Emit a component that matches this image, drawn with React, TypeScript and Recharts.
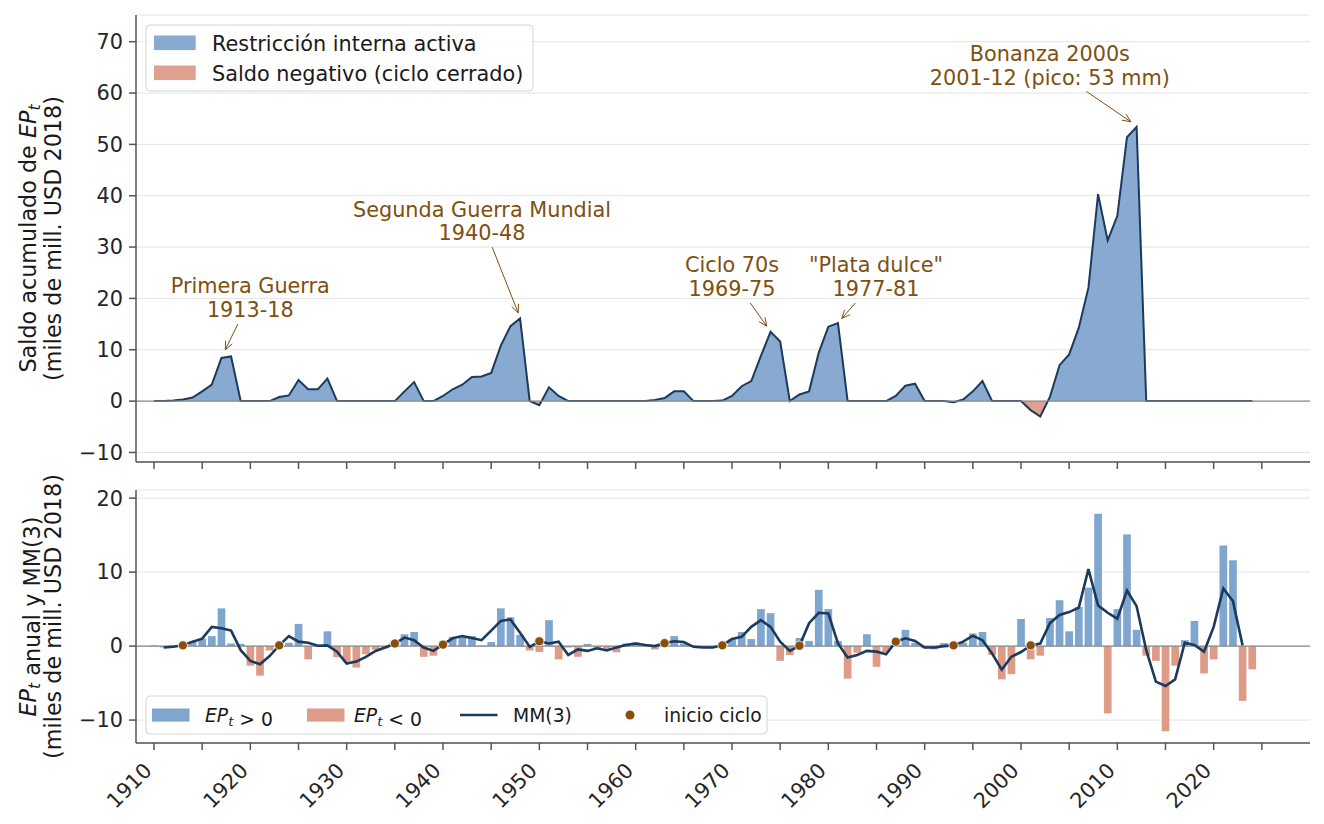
import React from "react";
import {
  ComposedChart,
  Area,
  Bar,
  Cell,
  Line,
  XAxis,
  YAxis,
  CartesianGrid,
  ReferenceLine,
} from "recharts";

// saldo acumulado de EP_t (miles de mill. USD 2018), 1910-2024
const FIRST_YEAR = 1910;
const saldoAcumulado = [
  0, 0, 0.1, 0.3, 0.7, 1.9, 3.2, 8.4, 8.7, 0,
  0, 0, 0, 0.8, 1.1, 4.1, 2.3, 2.3, 4.4, 0,
  0, 0, 0, 0, 0, 0, 1.9, 3.7, 0, 0,
  1.0, 2.3, 3.2, 4.7, 4.8, 5.5, 10.8, 14.6, 16.1, 0,
  -0.8, 2.7, 1.0, 0, 0, 0, 0, 0, 0, 0,
  0, 0, 0.2, 0.6, 1.9, 1.9, 0, 0, 0, 0.1,
  1.0, 2.9, 3.9, 8.8, 13.5, 11.6, 0, 1.3, 1.9, 9.4,
  14.5, 15.2, 0, 0, 0, 0, 0, 1.0, 3.0, 3.4,
  0, 0, 0, -0.2, 0.3, 1.9, 3.9, 0, 0, 0,
  0, -1.75, -3.0, 0.8, 7.0, 9.1, 14.3, 22.1, 40.3, 31.3,
  36.1, 51.4, 53.4, 0, 0, 0, 0, 0, 0, 0,
  0, 0, 0, 0, 0,
];

// EP_t anual
const epAnual = [
  0.1, -0.2, 0.1, 0.2, 0.6, 1.0, 1.35, 5.1, 0.35, 0.3,
  -2.65, -4.0, -0.6, 0.3, 0.45, 3.0, -1.8, 0.1, 2.0, -1.5,
  -2.1, -2.9, -1.1, -0.5, -0.3, 0.2, 1.6, 1.9, -1.45, -1.3,
  0.3, 1.25, 1.2, 1.35, 0.1, 0.55, 5.1, 3.9, 1.5, -0.6,
  -0.8, 3.5, -1.8, -0.2, -1.45, 0.3, -0.3, -0.4, -0.85, 0.35,
  0.5, 0.05, -0.45, 0.2, 1.35, 0.35, -0.1, -0.1, -0.1, 0.1,
  0.9, 1.9, 0.95, 5.0, 4.45, -2.0, -1.2, 1.1, 0.7, 7.6,
  5.0, 0.7, -4.4, -0.9, 1.6, -2.8, -0.8, 0.2, 2.2, 0.45,
  -0.3, -0.45, 0.4, -0.1, 0.45, 1.7, 1.9, -1.2, -4.5, -3.8,
  3.65, -1.8, -1.3, 3.8, 6.2, 2.0, 5.3, 7.9, 17.9, -9.1,
  5.0, 15.1, 2.2, -1.3, -2.0, -11.5, -2.65, 0.8, 3.4, -3.7,
  -1.8, 13.6, 11.6, -7.4, -3.15,
];

// media movil centrada de 3 anos
const mediaMovil3 = [
  null, -0.2, -0.1, 0.1, 0.6, 1.0, 2.6, 2.4, 2.1, -0.55,
  -2.0, -2.45, -1.35, 0.1, 1.35, 0.6, 0.45, 0.05, 0.1, -0.75,
  -2.35, -2.1, -1.45, -0.65, -0.2, 0.35, 1.15, 0.8, -0.2, -0.65,
  0.2, 1.05, 1.35, 1.1, 0.8, 2.1, 3.4, 3.6, 1.8, -0.1,
  0.65, 0.35, 0.6, -1.2, -0.45, -0.65, -0.3, -0.6, -0.2, 0.15,
  0.35, 0.15, 0, 0.4, 0.65, 0.55, -0.1, -0.2, -0.2, 0.1,
  0.95, 1.25, 2.6, 3.5, 2.6, 0.6, -0.65, 0.05, 3.1, 4.5,
  4.4, 0.35, -1.55, -1.2, -0.65, -0.75, -1.1, 0.6, 1.05, 0.7,
  -0.2, -0.2, 0, 0.1, 0.6, 1.4, 0.8, -1.0, -3.2, -1.45,
  -0.8, 0.1, 0.35, 3.1, 4.2, 4.6, 5.2, 10.4, 5.5, 4.5,
  3.7, 7.5, 5.4, -0.55, -4.8, -5.4, -4.5, 0.45, 0.15, -0.75,
  2.6, 7.8, 6.1, 0.1, null,
];

const iniciosCiclo = [1913, 1923, 1935, 1940, 1950, 1963, 1969, 1977, 1987, 1993, 2001];

const yearTicks = [
  1910, 1915, 1920, 1925, 1930, 1935, 1940, 1945, 1950, 1955, 1960, 1965,
  1970, 1975, 1980, 1985, 1990, 1995, 2000, 2005, 2010, 2015, 2020, 2025,
];
const topTicks = [-10, 0, 10, 20, 30, 40, 50, 60, 70];
const bottomTicks = [-10, 0, 10, 20];

// anotaciones del panel superior (coordenadas en datos: ano, valor)
const annotations = [
  { lines: ["Primera Guerra", "1913-18"], text: [1920.0, 16.4], from: [1918.7, 15.0], to: [1917.4, 10.0] },
  { lines: ["Segunda Guerra Mundial", "1940-48"], text: [1944.05, 31.3], from: [1945.1, 30.0], to: [1947.8, 17.2] },
  { lines: ["Ciclo 70s", "1969-75"], text: [1970.0, 20.5], from: [1971.9, 19.1], to: [1973.6, 14.6] },
  { lines: ['"Plata dulce"', "1977-81"], text: [1984.95, 20.5], from: [1982.8, 19.1], to: [1981.4, 16.1] },
  { lines: ["Bonanza 2000s", "2001-12 (pico: 53 mm)"], text: [2003.0, 61.6], from: [2006.8, 60.3], to: [2011.4, 54.4] },
];

const rows = saldoAcumulado.map((saldo, i) => {
  const year = FIRST_YEAR + i;
  return {
    year,
    saldo,
    ep: epAnual[i],
    mm: mediaMovil3[i],
    inicio: iniciosCiclo.includes(year) ? mediaMovil3[i] : null,
  };
});

const W = 1324;
const FONT = "DejaVu Sans";
const PLOT_LEFT = 136;
const PLOT_RIGHT = 1310;
const X_DOMAIN = [1908.13, 2030];
const TOP_DOMAIN = [-11.86, 75.2];
const TOP_H = 480;
const TOP_PLOT_TOP = 15;
const TOP_PLOT_BOTTOM = 462;
const BOT_OFFSET = 480;
const BOT_H = 344;
const BOT_DOMAIN = [-13.1, 21.1];

const BLUE_FILL = "#88aad0";
const RED_FILL = "#e0a08f";
const BLUE_BAR = "#7fa6cf";
const RED_BAR = "#de9b88";
const NAVY = "#1b3a5c";
const BROWN = "#7d500f";
const DOT = "#8a4d0c";
const SPINE = "#555";
const TICK_TXT = "#262626";
const LABEL_FS = 22.3;
const TICK_FS = 20.8;

const xPx = (year: number) =>
  PLOT_LEFT + ((year - X_DOMAIN[0]) / (X_DOMAIN[1] - X_DOMAIN[0])) * (PLOT_RIGHT - PLOT_LEFT);
const topY = (v: number) =>
  TOP_PLOT_TOP + ((TOP_DOMAIN[1] - v) / (TOP_DOMAIN[1] - TOP_DOMAIN[0])) * (TOP_PLOT_BOTTOM - TOP_PLOT_TOP);

const zeroFrac = (TOP_DOMAIN[1] - 0) / (TOP_DOMAIN[1] - TOP_DOMAIN[0]);

const tickStyle = { fontSize: TICK_FS, fill: TICK_TXT, fontFamily: FONT };
const fmtTick = (v: number) => (v < 0 ? `\u2212${Math.abs(v)}` : `${v}`);

const YearTick = (props: any) => {
  const { x, y, payload } = props;
  if (payload.value % 10 !== 0) return <g />;
  const px = x - 1;
  const py = y + 20;
  return (
    <text
      x={px}
      y={py}
      transform={`rotate(-45 ${px} ${py})`}
      textAnchor="end"
      fontSize={TICK_FS}
      fill={TICK_TXT}
      fontFamily={FONT}
    >
      {payload.value}
    </text>
  );
};

const NoTick = () => <g />;

function Arrow({ x1, y1, x2, y2 }: { x1: number; y1: number; x2: number; y2: number }) {
  const ang = Math.atan2(y2 - y1, x2 - x1);
  const L = 9;
  const a = 0.42;
  const p1 = [x2 - L * Math.cos(ang - a), y2 - L * Math.sin(ang - a)];
  const p2 = [x2 - L * Math.cos(ang + a), y2 - L * Math.sin(ang + a)];
  return (
    <g stroke={BROWN} strokeWidth={1} fill="none">
      <line x1={x1} y1={y1} x2={x2} y2={y2} />
      <polyline points={`${p1[0]},${p1[1]} ${x2},${y2} ${p2[0]},${p2[1]}`} />
    </g>
  );
}

function EPt({ size }: { size: number }) {
  return (
    <>
      <tspan fontStyle="italic">EP</tspan>
      <tspan fontStyle="italic" fontSize={size * 0.7} dy={size * 0.22}>
        t
      </tspan>
      <tspan dy={-size * 0.22}>{""}</tspan>
    </>
  );
}

function Overlay() {
  return (
    <svg
      width={W}
      height={824}
      style={{ position: "absolute", left: 0, top: 0, pointerEvents: "none" }}
      fontFamily={FONT}
    >
      {/* etiquetas del eje y */}
      <g fontSize={LABEL_FS} fill="#1a1a1a" textAnchor="middle">
        <text transform="translate(35.5 238.5) rotate(-90)">
          Saldo acumulado de <EPt size={LABEL_FS} />
        </text>
        <text transform="translate(61 238.5) rotate(-90)">(miles de mill. USD 2018)</text>
        <text transform="translate(35.5 616.5) rotate(-90)">
          <EPt size={LABEL_FS} /> anual y MM(3)
        </text>
        <text transform="translate(61 616.5) rotate(-90)">(miles de mill. USD 2018)</text>
      </g>

      {/* anotaciones */}
      {annotations.map((a) => {
        const tx = xPx(a.text[0]);
        const ty = topY(a.text[1]);
        return (
          <g key={a.lines[0]}>
            <text x={tx} y={ty - 23.5} textAnchor="middle" fontSize={20.8} fill={BROWN}>
              {a.lines[0]}
            </text>
            <text x={tx} y={ty} textAnchor="middle" fontSize={20.8} fill={BROWN}>
              {a.lines[1]}
            </text>
            <Arrow x1={xPx(a.from[0])} y1={topY(a.from[1])} x2={xPx(a.to[0])} y2={topY(a.to[1])} />
          </g>
        );
      })}

      {/* leyenda superior */}
      <rect x={146} y={25} width={387} height={66} rx={4} fill="#fff" fillOpacity={0.8} stroke="#d4d4d4" />
      <rect x={154} y={35.5} width={41.7} height={14.6} fill={BLUE_FILL} />
      <rect x={154} y={65.5} width={41.7} height={14.6} fill={RED_FILL} />
      <text x={212} y={50.5} fontSize={20.8} fill="#1a1a1a">
        Restricción interna activa
      </text>
      <text x={212} y={80.5} fontSize={20.8} fill="#1a1a1a">
        Saldo negativo (ciclo cerrado)
      </text>

      {/* leyenda inferior */}
      <rect x={146} y={696} width={621} height={38} rx={4} fill="#fff" fillOpacity={0.8} stroke="#d4d4d4" />
      <rect x={152} y={708.5} width={37.5} height={13.1} fill={BLUE_BAR} />
      <text x={205} y={721.5} fontSize={18.75} fill="#1a1a1a">
        <EPt size={18.75} /> {">"} 0
      </text>
      <rect x={307} y={708.5} width={37.5} height={13.1} fill={RED_BAR} />
      <text x={354} y={721.5} fontSize={18.75} fill="#1a1a1a">
        <EPt size={18.75} /> {"<"} 0
      </text>
      <line x1={460} y1={715} x2={497.5} y2={715} stroke={NAVY} strokeWidth={2.6} />
      <text x={513} y={721.5} fontSize={18.75} fill="#1a1a1a">
        MM(3)
      </text>
      <circle cx={630} cy={715} r={4.5} fill={DOT} />
      <text x={664} y={721.5} fontSize={18.75} fill="#1a1a1a">
        inicio ciclo
      </text>
    </svg>
  );
}

export default function App() {
  return (
    <div
      style={{
        position: "absolute",
        left: 0,
        top: 0,
        width: W,
        height: 824,
        background: "#fff",
        fontFamily: FONT,
      }}
    >
      <div style={{ position: "absolute", left: 0, top: 0 }}>
        <ComposedChart
          width={W}
          height={TOP_H}
          data={rows}
          margin={{ top: TOP_PLOT_TOP, right: W - PLOT_RIGHT, bottom: 0, left: PLOT_LEFT - 60 }}
        >
          <defs>
            <linearGradient
              id="saldoFill"
              gradientUnits="userSpaceOnUse"
              x1={0}
              y1={TOP_PLOT_TOP}
              x2={0}
              y2={TOP_PLOT_BOTTOM}
            >
              <stop offset={zeroFrac} stopColor={BLUE_FILL} />
              <stop offset={zeroFrac} stopColor={RED_FILL} />
            </linearGradient>
          </defs>
          <CartesianGrid vertical={false} stroke="#e3e3e3" strokeWidth={1} />
          <XAxis
            dataKey="year"
            type="number"
            domain={X_DOMAIN}
            ticks={yearTicks}
            allowDataOverflow
            height={TOP_H - TOP_PLOT_BOTTOM}
            tick={NoTick}
            tickSize={7}
            axisLine={{ stroke: SPINE, strokeWidth: 1.5 }}
            tickLine={{ stroke: SPINE, strokeWidth: 1.5 }}
          />
          <YAxis
            type="number"
            domain={TOP_DOMAIN}
            ticks={topTicks}
            allowDataOverflow
            width={60}
            tick={tickStyle}
            tickFormatter={fmtTick}
            tickSize={7}
            tickMargin={6}
            axisLine={{ stroke: SPINE, strokeWidth: 1.5 }}
            tickLine={{ stroke: SPINE, strokeWidth: 1.5 }}
          />
          <Area
            type="linear"
            dataKey="saldo"
            baseValue={0}
            stroke={NAVY}
            strokeWidth={2}
            fill="url(#saldoFill)"
            fillOpacity={1}
            dot={false}
            activeDot={false}
            isAnimationActive={false}
          />
          <ReferenceLine y={0} stroke="#8a8a8a" strokeWidth={1.2} />
        </ComposedChart>
      </div>

      <div style={{ position: "absolute", left: 0, top: BOT_OFFSET }}>
        <ComposedChart
          width={W}
          height={BOT_H}
          data={rows}
          margin={{ top: 10, right: W - PLOT_RIGHT, bottom: 0, left: PLOT_LEFT - 60 }}
        >
          <CartesianGrid vertical={false} stroke="#e3e3e3" strokeWidth={1} />
          <XAxis
            dataKey="year"
            type="number"
            domain={X_DOMAIN}
            ticks={yearTicks}
            allowDataOverflow
            height={81}
            tick={YearTick}
            tickSize={7}
            axisLine={{ stroke: SPINE, strokeWidth: 1.5 }}
            tickLine={{ stroke: SPINE, strokeWidth: 1.5 }}
          />
          <YAxis
            type="number"
            domain={BOT_DOMAIN}
            ticks={bottomTicks}
            allowDataOverflow
            width={60}
            tick={tickStyle}
            tickFormatter={fmtTick}
            tickSize={7}
            tickMargin={6}
            axisLine={{ stroke: SPINE, strokeWidth: 1.5 }}
            tickLine={{ stroke: SPINE, strokeWidth: 1.5 }}
          />
          <Bar dataKey="ep" barSize={7.7} isAnimationActive={false}>
            {rows.map((r) => (
              <Cell key={r.year} fill={r.ep >= 0 ? BLUE_BAR : RED_BAR} />
            ))}
          </Bar>
          <ReferenceLine y={0} stroke="#8a8a8a" strokeWidth={1.2} />
          <Line
            type="linear"
            dataKey="mm"
            stroke={NAVY}
            strokeWidth={2.6}
            dot={false}
            activeDot={false}
            connectNulls={false}
            isAnimationActive={false}
          />
          <Line
            type="linear"
            dataKey="inicio"
            stroke="none"
            dot={{ r: 4.6, fill: DOT, stroke: "#fff", strokeWidth: 0.8 }}
            activeDot={false}
            isAnimationActive={false}
          />
        </ComposedChart>
      </div>

      <Overlay />
    </div>
  );
}
